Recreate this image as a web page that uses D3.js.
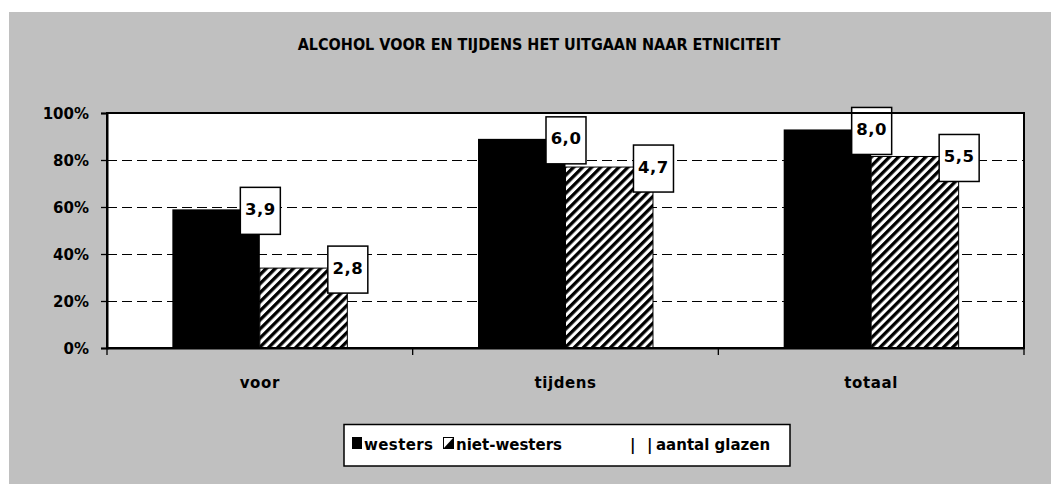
<!DOCTYPE html>
<html>
<head>
<meta charset="utf-8">
<script src="https://cdn.jsdelivr.net/npm/d3@7"></script>
<style>
  html, body { margin: 0; padding: 0; background: #ffffff; }
  svg { display: block; }
  text { font-family: "DejaVu Sans", "Liberation Sans", sans-serif; font-weight: bold; fill: #000; }
  .cond { font-family: "DejaVu Sans Condensed", "DejaVu Sans", sans-serif; font-stretch: condensed; }
</style>
</head>
<body>
<script>
// ---- data ----
const categories = ["voor", "tijdens", "totaal"];
const seriesNames = ["westers", "niet-westers"];
const westers = [59, 89, 93];
const nietWesters = [34, 77, 81.5];
const glazenWesters = ["3,9", "6,0", "8,0"];
const glazenNietWesters = ["2,8", "4,7", "5,5"];
const yTicks = [0, 20, 40, 60, 80, 100];
const titleText = "ALCOHOL VOOR EN TIJDENS HET UITGAAN NAAR ETNICITEIT";
const legendExtra = "aantal glazen";

const W = 1053, H = 484;
const svg = d3.select("body").append("svg").attr("width", W).attr("height", H);

const defs = svg.append("defs");
const pat = defs.append("pattern").attr("id", "hatch")
  .attr("patternUnits", "userSpaceOnUse")
  .attr("width", 6.4).attr("height", 6.4)
  .attr("patternTransform", "rotate(45)");
pat.append("rect").attr("width", 6.4).attr("height", 6.4).attr("fill", "#fff");
pat.append("rect").attr("width", 3.3).attr("height", 6.4).attr("fill", "#000");

// chart background
svg.append("rect").attr("x", 9).attr("y", 12).attr("width", 1042).attr("height", 472).attr("fill", "#c0c0c0");

// title
svg.append("text").attr("class", "cond").attr("x", 539).attr("y", 50)
  .attr("text-anchor", "middle").attr("font-size", 16).text(titleText);

const plot = { left: 107, right: 1024, top: 113, bottom: 348 };

const x0 = d3.scaleBand().domain(categories).range([plot.left, plot.right]);
const x1 = d3.scaleBand().domain(seriesNames).range([0, x0.bandwidth()]).paddingOuter(0.747).paddingInner(0);
const y = d3.scaleLinear().domain([0, 100]).range([plot.bottom, plot.top]);

// plot area
svg.append("rect").attr("x", plot.left).attr("y", plot.top)
  .attr("width", plot.right - plot.left).attr("height", plot.bottom - plot.top)
  .attr("fill", "#fff");

// gridlines
svg.append("g").selectAll("line").data(yTicks.filter(d => d > 0 && d < 100)).join("line")
  .attr("x1", plot.left).attr("x2", plot.right)
  .attr("y1", d => y(d) + 0.5).attr("y2", d => y(d) + 0.5)
  .attr("stroke", "#000").attr("stroke-width", 1).attr("stroke-dasharray", "10,5")
  .attr("shape-rendering", "crispEdges");

// bars
const data = categories.map((c, i) => ({
  cat: c,
  vals: [
    { s: "westers", v: westers[i], lab: glazenWesters[i] },
    { s: "niet-westers", v: nietWesters[i], lab: glazenNietWesters[i] }
  ]
}));

const groups = svg.append("g").selectAll("g").data(data).join("g")
  .attr("transform", d => `translate(${x0(d.cat)},0)`);

groups.selectAll("rect").data(d => d.vals).join("rect")
  .attr("x", d => x1(d.s))
  .attr("width", x1.bandwidth())
  .attr("y", d => y(d.v))
  .attr("height", d => y(0) - y(d.v))
  .attr("fill", d => d.s === "westers" ? "#000" : "url(#hatch)")
  .attr("stroke", "#000")
  .attr("stroke-width", d => d.s === "westers" ? 0 : 1);

// frame
svg.append("rect").attr("x", plot.left).attr("y", plot.top)
  .attr("width", plot.right - plot.left).attr("height", plot.bottom - plot.top)
  .attr("fill", "none").attr("stroke", "#000").attr("stroke-width", 2);

// y axis
const yAxis = svg.append("g").attr("transform", `translate(${plot.left},0)`)
  .call(d3.axisLeft(y).tickValues(yTicks).tickFormat(d => d + "%").tickSize(6).tickPadding(12));
yAxis.select(".domain").attr("stroke", "#000").attr("stroke-width", 2);
yAxis.selectAll(".tick line").attr("stroke", "#000").attr("stroke-width", 1.3);
yAxis.selectAll(".tick text").attr("font-size", 15).attr("font-family", null).attr("dy", "0.36em");

// x axis
const xAxis = svg.append("g").attr("transform", `translate(0,${plot.bottom})`)
  .call(d3.axisBottom(x0).tickSize(0).tickPadding(0));
xAxis.select(".domain").attr("stroke", "#000").attr("stroke-width", 2);
xAxis.selectAll(".tick text").attr("font-size", 15).attr("font-family", null)
  .attr("letter-spacing", "0.6px").attr("y", 40).attr("dy", 0);
// tick marks at band boundaries
const boundaries = categories.map(c => x0(c)).concat([x0(categories[categories.length - 1]) + x0.bandwidth()]);
svg.append("g").selectAll("line").data(boundaries).join("line")
  .attr("x1", d => d).attr("x2", d => d)
  .attr("y1", plot.bottom).attr("y2", plot.bottom + 7)
  .attr("stroke", "#000").attr("stroke-width", 1.3);

// data label boxes
const labs = groups.selectAll("g.lab").data(d => d.vals).join("g").attr("class", "lab")
  .attr("transform", d => `translate(${x1(d.s) + x1.bandwidth()},${y(d.v)})`);
labs.append("rect").attr("x", -19.5).attr("y", -22).attr("width", 40).attr("height", 47)
  .attr("fill", "#fff").attr("stroke", "#000").attr("stroke-width", 1.5);
labs.append("text").attr("x", 0.5).attr("y", 5.5).attr("text-anchor", "middle")
  .attr("font-size", 16.5).attr("letter-spacing", "0.5px").text(d => d.lab);

// legend
const lg = svg.append("g");
lg.append("rect").attr("x", 344).attr("y", 424.5).attr("width", 446).attr("height", 41.5)
  .attr("fill", "#fff").attr("stroke", "#000").attr("stroke-width", 1.5);
lg.append("rect").attr("x", 352).attr("y", 437).attr("width", 10).attr("height", 12).attr("fill", "#000");
lg.append("text").attr("x", 364).attr("y", 449.5).attr("font-size", 15).attr("letter-spacing", "0.4px").text(seriesNames[0]);
lg.append("rect").attr("x", 443.5).attr("y", 437.5).attr("width", 10).attr("height", 11)
  .attr("fill", "#fff").attr("stroke", "#000").attr("stroke-width", 1);
lg.append("path").attr("d", "M443.5,448.5 L453.5,437.5 L453.5,448.5 Z").attr("fill", "#000");
lg.append("text").attr("x", 456).attr("y", 449.5).attr("font-size", 15).text(seriesNames[1]);
lg.append("text").attr("x", 630).attr("y", 449.5).attr("font-size", 15).text("|");
lg.append("text").attr("x", 647).attr("y", 449.5).attr("font-size", 15).text("|");
lg.append("text").attr("x", 656).attr("y", 449.5).attr("font-size", 15).text(legendExtra);
</script>
</body>
</html>
